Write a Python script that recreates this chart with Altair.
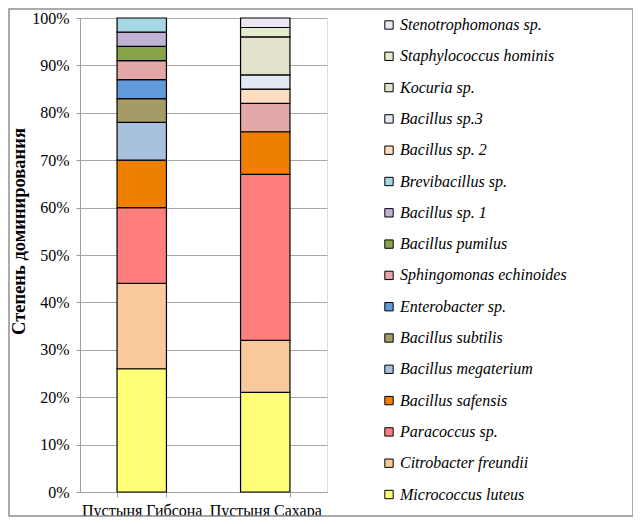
import altair as alt
import pandas as pd

sites = ["Пустыня Гибсона", "Пустыня Сахара"]
species = [
    "Micrococcus luteus", "Citrobacter freundii", "Paracoccus sp.",
    "Bacillus safensis", "Bacillus megaterium", "Bacillus subtilis",
    "Enterobacter sp.", "Sphingomonas echinoides", "Bacillus pumilus",
    "Bacillus sp. 1", "Brevibacillus sp.", "Bacillus sp. 2",
    "Bacillus sp.3", "Kocuria sp.", "Staphylococcus hominis",
    "Stenotrophomonas sp.",
]
gibson = [26, 18, 16, 10, 8, 5, 4, 4, 3, 3, 3, 0, 0, 0, 0, 0]
sahara = [21, 11, 35, 9, 0, 0, 0, 6, 0, 0, 0, 3, 3, 8, 2, 2]
colors = [
    "#FFFF77", "#FAC99B", "#FF7F7F", "#EE7F00", "#A7C0DE", "#A59B66",
    "#629BDB", "#E4A8A8", "#88A44A", "#C1B2D4", "#A6D8E4", "#FFDDC2",
    "#E2EBF5", "#E3E0CC", "#E2EDCE", "#EDE6F3",
]
y_ticks = list(range(0, 101, 10))

rows = []
for site, vals in zip(sites, [gibson, sahara]):
    for i, (sp, v) in enumerate(zip(species, vals)):
        if v > 0:
            rows.append({"site": site, "species": sp, "value": v, "order": i})
df = pd.DataFrame(rows)

serif = "Times New Roman, Liberation Serif, Tinos, DejaVu Serif, serif"

bars = alt.Chart(df).mark_bar(stroke="black", strokeWidth=1.2).encode(
    x=alt.X("site:N", sort=sites, title=None,
            scale=alt.Scale(paddingInner=0.6, paddingOuter=0.3),
            axis=alt.Axis(labelAngle=0, labelFont=serif, labelFontSize=16,
                          labelColor="black", tickBand="extent", tickSize=5,
                          domainColor="#A0A0A0", tickColor="#A0A0A0",
                          labelPadding=5, grid=False)),
    y=alt.Y("value:Q", stack="zero",
            scale=alt.Scale(domain=[0, 100], nice=False),
            axis=alt.Axis(values=y_ticks, labelExpr="datum.value + '%'",
                          title="Степень доминирования", titleFont=serif,
                          titleFontSize=18.5, titleFontWeight="bold",
                          titleColor="black", titleAngle=270,
                          titleX=-62, titleY=213, titleAlign="center",
                          titleBaseline="middle",
                          labelFont=serif, labelFontSize=16, labelColor="black",
                          labelPadding=7, tickSize=4, tickColor="#A0A0A0",
                          domainColor="#A0A0A0", gridColor="#A8A8A8",
                          gridWidth=1.2)),
    color=alt.Color("species:N",
                    scale=alt.Scale(domain=species[::-1], range=colors[::-1]),
                    legend=alt.Legend(title=None, orient="none",
                                      legendX=301, legendY=-1,
                                      symbolType="square", symbolSize=70,
                                      symbolStrokeColor="black",
                                      symbolStrokeWidth=1,
                                      labelFont=serif, labelFontSize=16,
                                      labelFontStyle="italic",
                                      labelColor="black", labelOffset=3,
                                      rowPadding=15.3, labelLimit=300)),
    order=alt.Order("order:Q", sort="ascending"),
)

frame = alt.Chart(pd.DataFrame({"a": [0]})).mark_rect(
    fill=None, stroke="#909090", strokeWidth=1.5
).encode(
    x=alt.value(-71), x2=alt.value(553), y=alt.value(-9), y2=alt.value(498)
)

chart = alt.layer(frame, bars).properties(
    width=247, height=474,
    padding={"left": 72, "top": 10, "right": 306, "bottom": 25},
    autosize=alt.AutoSizeParams(type="none"),
).configure_view(stroke=None).configure(background="white", font=serif)

chart.save("out.html", embed_options={"renderer": "svg", "actions": False})
